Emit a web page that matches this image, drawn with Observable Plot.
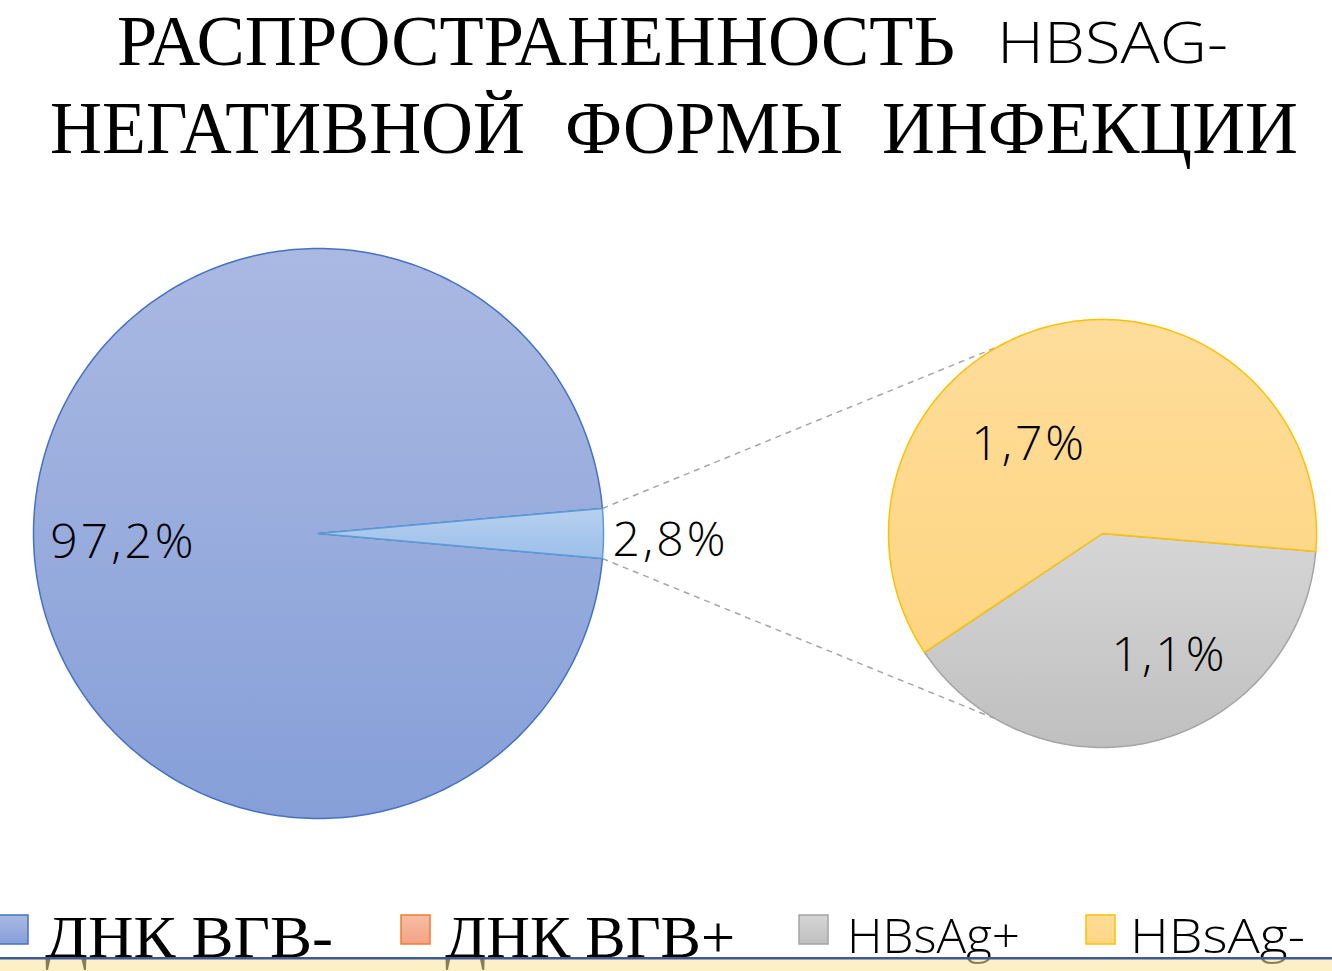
<!DOCTYPE html>
<html><head><meta charset="utf-8">
<script src="https://cdn.jsdelivr.net/npm/d3@7"></script>
<script src="https://cdn.jsdelivr.net/npm/@observablehq/plot@0.6"></script>
<style>
html,body{margin:0;padding:0;background:#fff;width:1332px;height:971px;overflow:hidden;}
svg{display:block;}
#chart svg{display:block;}
</style></head><body>
<svg id="title" width="1332" height="180"></svg>
<div id="chart"></div>
<svg id="legend" width="1332" height="81"></svg>
<script>
// ---------- data ----------
const titleLine1 = "РАСПРОСТРАНЕННОСТЬ";
const titleSuffix = "HBSAG-";
const titleLine2 = ["НЕГАТИВНОЙ", "ФОРМЫ", "ИНФЕКЦИИ"];
const mainCategories = ["ДНК ВГВ-", "Прочие"];
const mainValues = [97.2, 2.8];
const subCategories = ["HBsAg+", "HBsAg-"];
const subValues = [1.1, 1.7];
const legendLabels = ["ДНК ВГВ-", "ДНК ВГВ+", "HBsAg+", "HBsAg-"];

// ---------- styles / layout ----------
const gradients = {
  gMain:   ["#aab9e2", "#869fd8"],
  gOther:  ["#b7d0ef", "#9cbfea"],
  gOrange: ["#f8bda5", "#f4a384"],
  gGray:   ["#d6d6d6", "#bfbfbf"],
  gYellow: ["#fedd9b", "#fed581"]
};
const mainStyles = [{fill: "url(#gMain)", stroke: "#4472c4"}, {fill: "url(#gOther)", stroke: "#5b9bd5"}];
const subStyles = [{fill: "url(#gGray)", stroke: "#a5a5a5"}, {fill: "url(#gYellow)", stroke: "#ffc000"}];
const legendStyles = [
  {fill: "url(#lgMain)", stroke: "#4472c4", serif: true},
  {fill: "url(#lgOrange)", stroke: "#ed7d31", serif: true},
  {fill: "url(#lgGray)", stroke: "#a5a5a5", serif: false},
  {fill: "url(#lgYellow)", stroke: "#ffc000", serif: false}
];
const MAIN = {cx: 318, cy: 533, r: 285};
const SUB = {cx: 1102, cy: 533, r: 214};
const subStart = 4.8;
const mainLabelPlace = [{angle: 177.4, r: 0.685, anchor: "middle"}, {angle: 1.4, r: 1.032, anchor: "start"}];
const subLabelPlace = [{angle: 61.2, r: 0.65, anchor: "middle"}, {angle: 230.6, r: 0.54, anchor: "middle"}];
const connectorAngles = [241, 120];

const rad = Math.PI / 180;
const pt = (c, a, f = 1) => ({x: c.cx + c.r * f * Math.cos(a * rad), y: c.cy + c.r * f * Math.sin(a * rad)});
function slice(c, a0, a1) {
  const pts = [{x: c.cx, y: c.cy}];
  const n = Math.max(2, Math.ceil(Math.abs(a1 - a0)));
  for (let i = 0; i <= n; i++) pts.push(pt(c, a0 + (a1 - a0) * i / n));
  pts.push({x: c.cx, y: c.cy});
  return pts;
}
const fmt = v => v.toFixed(1).replace(".", ",") + "%";

// main pie angles: second slice centred on 0°
const mainTotal = d3.sum(mainValues);
const otherSpan = mainValues[1] / mainTotal * 360;
const mainArcs = [[otherSpan / 2, 360 - otherSpan / 2], [-otherSpan / 2, otherSpan / 2]];
// sub pie
const subTotal = d3.sum(subValues);
const subArcs = [];
{ let a = subStart; for (const v of subValues) { const s = v / subTotal * 360; subArcs.push([a, a + s]); a += s; } }

const marks = [];
// connector lines
const connectors = [
  {p1: pt(MAIN, -otherSpan / 2), p2: pt(SUB, connectorAngles[0])},
  {p1: pt(MAIN, otherSpan / 2), p2: pt(SUB, connectorAngles[1])}
];
marks.push(Plot.link(connectors, {x1: d => d.p1.x, y1: d => d.p1.y, x2: d => d.p2.x, y2: d => d.p2.y,
  stroke: "#a6a6a6", strokeWidth: 1.5, strokeDasharray: "6,5"}));
mainValues.forEach((v, i) => {
  marks.push(Plot.line(slice(MAIN, mainArcs[i][0], mainArcs[i][1]), {x: "x", y: "y",
    fill: mainStyles[i].fill, stroke: mainStyles[i].stroke, strokeWidth: 1.5, strokeLinejoin: "round"}));
});
subValues.forEach((v, i) => {
  marks.push(Plot.line(slice(SUB, subArcs[i][0], subArcs[i][1]), {x: "x", y: "y",
    fill: subStyles[i].fill, stroke: subStyles[i].stroke, strokeWidth: 1.5, strokeLinejoin: "round"}));
});
const labels = [
  ...mainValues.map((v, i) => ({...pt(MAIN, mainLabelPlace[i].angle, mainLabelPlace[i].r), text: fmt(v), anchor: mainLabelPlace[i].anchor})),
  ...subValues.map((v, i) => ({...pt(SUB, subLabelPlace[i].angle, subLabelPlace[i].r), text: fmt(v), anchor: subLabelPlace[i].anchor}))
];
for (const anchor of ["middle", "start"]) {
  marks.push(Plot.text(labels.filter(d => d.anchor === anchor), {x: "x", y: "y", text: "text",
    textAnchor: anchor, lineAnchor: "middle", fontSize: 48, fill: "#000",
    fontFamily: "'Open Sans', sans-serif", fontWeight: 300}));
}

const chart = Plot.plot({
  width: 1332, height: 710, margin: 0,
  x: {domain: [0, 1332], range: [0, 1332], axis: null},
  y: {domain: [180, 890], range: [0, 710], axis: null},
  style: {letterSpacing: "3px", background: "transparent"},
  marks
});
document.getElementById("chart").appendChild(chart);

function addGradients(svgSel, map) {
  const defs = svgSel.insert("defs", ":first-child");
  for (const [id, [c0, c1]] of Object.entries(map)) {
    const g = defs.append("linearGradient").attr("id", id).attr("x1", 0).attr("y1", 0).attr("x2", 0).attr("y2", 1);
    g.append("stop").attr("offset", "0%").attr("stop-color", c0);
    g.append("stop").attr("offset", "100%").attr("stop-color", c1);
  }
}
addGradients(d3.select(chart), gradients);

// ---------- title ----------
const T = d3.select("#title");
const serif = "'Liberation Serif', 'DejaVu Serif', serif";
T.append("text").attr("x", 117).attr("y", 64.5).attr("font-family", serif).attr("font-size", 72)
  .attr("textLength", 838).attr("lengthAdjust", "spacingAndGlyphs").text(titleLine1);
T.append("text").attr("x", 997).attr("y", 63).attr("font-family", "'Open Sans', sans-serif").attr("font-weight", 300)
  .attr("font-size", 57).attr("textLength", 231).attr("lengthAdjust", "spacingAndGlyphs").text(titleSuffix);
const line2Pos = [[50, 475], [565, 278], [882, 416]];
titleLine2.forEach((w, i) => {
  T.append("text").attr("x", line2Pos[i][0]).attr("y", 153).attr("font-family", serif).attr("font-size", 75)
    .attr("textLength", line2Pos[i][1]).attr("lengthAdjust", "spacingAndGlyphs").text(w);
});

// ---------- legend ----------
const L = d3.select("#legend");
addGradients(L, {lgMain: gradients.gMain, lgOrange: gradients.gOrange, lgGray: gradients.gGray, lgYellow: gradients.gYellow});
const legendSquareX = [-1, 401, 799, 1086];
const legendTextX = [[45, 288], [445, 290], [847, 173], [1130, 175]];
legendLabels.forEach((lab, i) => {
  const s = legendStyles[i];
  L.append("rect").attr("x", legendSquareX[i]).attr("y", 25).attr("width", 29).attr("height", 29)
    .attr("fill", s.fill).attr("stroke", s.stroke).attr("stroke-width", 1.5);
  const t = L.append("text").attr("x", legendTextX[i][0]).attr("textLength", legendTextX[i][1])
    .attr("lengthAdjust", "spacingAndGlyphs").text(lab);
  if (s.serif) t.attr("y", 67).attr("font-family", serif).attr("font-size", 60);
  else t.attr("y", 63).attr("font-family", "'Open Sans', sans-serif").attr("font-weight", 300).attr("font-size", 47);
});
L.append("rect").attr("x", 0).attr("y", 69).attr("width", 1332).attr("height", 12)
  .attr("fill", "rgb(251,228,151)").attr("fill-opacity", 0.55);
L.append("rect").attr("x", 0).attr("y", 67).attr("width", 1332).attr("height", 2.5).attr("fill", "#3a5a98");
</script>
</body></html>
